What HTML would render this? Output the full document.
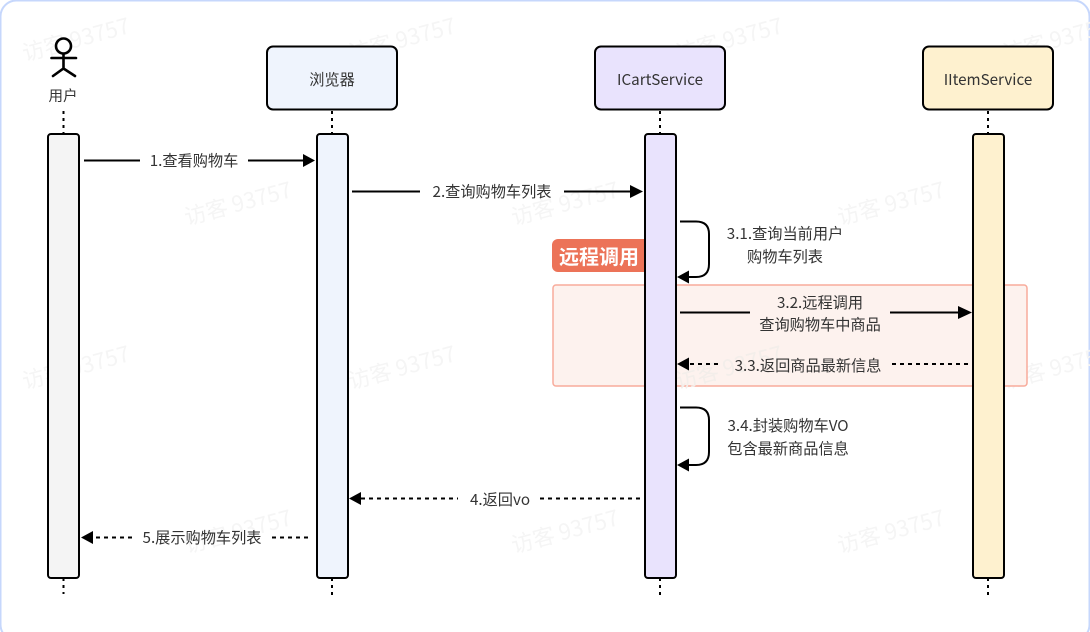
<!DOCTYPE html>
<html>
<head>
<meta charset="utf-8">
<style>
html,body{margin:0;padding:0;width:1090px;height:632px;overflow:hidden;background:#fff}
svg{display:block;position:absolute;left:0;top:0}
text{font-family:"Noto Sans CJK SC","Liberation Sans",sans-serif;font-size:15.200px;fill:#333;text-anchor:middle}
.wm{font-size:22px;fill:#f5f5f5;text-anchor:middle}
.box{stroke:#000;stroke-width:2}
.life{stroke:#000;stroke-width:2;stroke-dasharray:3 4;fill:none}
.solid{stroke:#000;stroke-width:2;fill:none}
.dash{stroke:#000;stroke-width:2;stroke-dasharray:4 4;fill:none}
</style>
</head>
<body>
<svg width="1090" height="632" viewBox="0 0 1090 632" xmlns="http://www.w3.org/2000/svg">
<rect x="0.500" y="0.500" width="1089" height="640" rx="16" fill="#fff" stroke="#c6d7fc" stroke-width="2"/>

<g>
<text class="wm" transform="translate(78,47) rotate(-15)">访客 93757</text>
<text class="wm" transform="translate(404,47) rotate(-15)">访客 93757</text>
<text class="wm" transform="translate(731,47) rotate(-15)">访客 93757</text>
<text class="wm" transform="translate(1058,47) rotate(-15)">访客 93757</text>
<text class="wm" transform="translate(240,211) rotate(-15)">访客 93757</text>
<text class="wm" transform="translate(567,211) rotate(-15)">访客 93757</text>
<text class="wm" transform="translate(893,211) rotate(-15)">访客 93757</text>
<text class="wm" transform="translate(78,375) rotate(-15)">访客 93757</text>
<text class="wm" transform="translate(404,375) rotate(-15)">访客 93757</text>
<text class="wm" transform="translate(1058,375) rotate(-15)">访客 93757</text>
<text class="wm" transform="translate(240,539) rotate(-15)">访客 93757</text>
<text class="wm" transform="translate(567,539) rotate(-15)">访客 93757</text>
<text class="wm" transform="translate(893,539) rotate(-15)">访客 93757</text>
</g>

<!-- remote call region -->
<rect x="553" y="285" width="474" height="101" rx="3" fill="#fdf2ee" stroke="#f8ab9b" stroke-width="1.500"/>
<text class="wm" transform="translate(731,375) rotate(-15)" style="fill:#f3eeea">访客 93757</text>
<rect x="552" y="239" width="100" height="33" rx="6" fill="#ec7358"/>
<text x="599" y="264" style="font-size:20px;font-weight:700;fill:#fff">远程调用</text>

<!-- lifelines -->
<path class="life" d="M63.500 111V134M63.500 578V594"/>
<path class="life" d="M332 111V134M332 578V596"/>
<path class="life" d="M660 111V134M660 578V596"/>
<path class="life" d="M988 111V134M988 578V596"/>

<!-- actor -->
<g stroke="#000" stroke-width="2.600" fill="none" stroke-linecap="round">
<circle cx="63.500" cy="46" r="7.500" fill="#fff"/>
<path d="M63.500 54V68M51.500 58H76M53 76L63.500 68.500L75 76"/>
</g>
<text x="63" y="101" style="font-size:14.500px">用户</text>

<!-- head boxes -->
<rect class="box" x="267" y="46.500" width="130" height="63" rx="6" fill="#eff4fd"/>
<text x="332" y="85">浏览器</text>
<rect class="box" x="595" y="46.500" width="130" height="63" rx="6" fill="#e9e3fd"/>
<text x="660" y="85">ICartService</text>
<rect class="box" x="923" y="46.500" width="130" height="63" rx="6" fill="#fef1cf"/>
<text x="988" y="85">IItemService</text>

<!-- activations -->
<rect class="box" x="48" y="134" width="31" height="444" rx="3" fill="#f4f4f4"/>
<rect class="box" x="317" y="134" width="31" height="444" rx="3" fill="#eff4fd"/>
<rect class="box" x="645" y="134" width="31" height="444" rx="3" fill="#e9e3fd"/>
<rect class="box" x="973" y="134" width="31" height="444" rx="3" fill="#fef1cf"/>

<!-- 1 -->
<path class="solid" d="M84 160.500H140M248 160.500H305"/>
<path d="M303 154L315 160.500L303 167Z" fill="#000"/>
<text x="194" y="166">1.查看购物车</text>

<!-- 2 -->
<path class="solid" d="M352 191.500H420M564 191.500H632"/>
<path d="M630 185L643 191.500L630 198Z" fill="#000"/>
<text x="492" y="197">2.查询购物车列表</text>

<!-- 3.1 -->
<path class="solid" d="M680 221.500H696Q709 221.500 709 234V264Q709 277 696 277H688"/>
<path d="M677 277L689 270.500V283.500Z" fill="#000"/>
<text x="785" y="239">3.1.查询当前用户</text>
<text x="785" y="262">购物车列表</text>

<!-- 3.2 -->
<path class="solid" d="M680 312.500H750M890 312.500H960"/>
<path d="M958 306L972 312.500L958 319Z" fill="#000"/>
<text x="820" y="308">3.2.远程调用</text>
<text x="820" y="330">查询购物车中商品</text>

<!-- 3.3 -->
<path class="dash" d="M690 364H722M892 364H970"/>
<path d="M677 364L689 357.500V370.500Z" fill="#000"/>
<text x="808" y="371">3.3.返回商品最新信息</text>

<!-- 3.4 -->
<path class="solid" d="M680 407.500H696Q709 407.500 709 420V452Q709 465 696 465H688"/>
<path d="M677 465L689 458.500V471.500Z" fill="#000"/>
<text x="788" y="431">3.4.封装购物车VO</text>
<text x="788" y="454">包含最新商品信息</text>

<!-- 4 -->
<path class="dash" d="M361 498.500H458M540 498.500H640"/>
<path d="M349 498.500L361 492V505Z" fill="#000"/>
<text x="500" y="505">4.返回vo</text>

<!-- 5 -->
<path class="dash" d="M96 537.500H133M272 537.500H312"/>
<path d="M81 537.500L93 531V544Z" fill="#000"/>
<text x="202" y="543">5.展示购物车列表</text>
</svg>
</body>
</html>
